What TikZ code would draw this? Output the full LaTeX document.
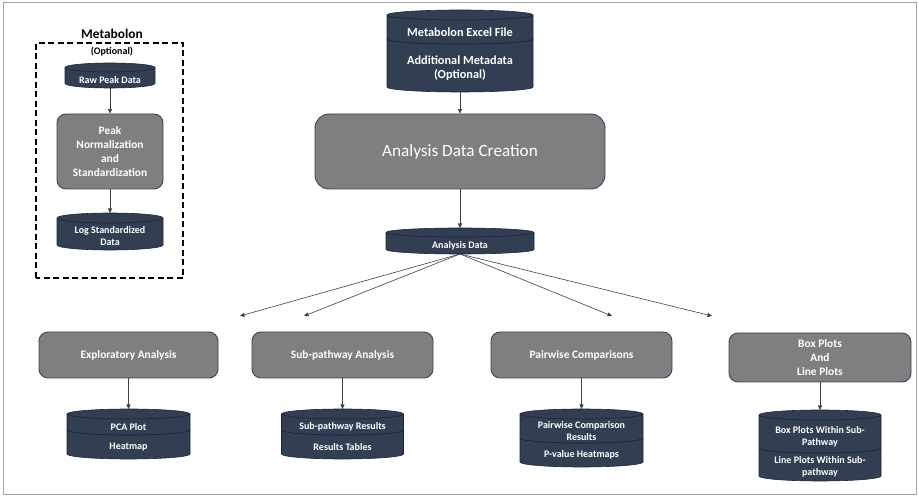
\documentclass[tikz,border=0pt]{standalone}
\usepackage{fontspec}
\setmainfont{Carlito}
\usetikzlibrary{arrows.meta}

\definecolor{dbblue}{RGB}{50,62,82}
\definecolor{dbedge}{RGB}{28,38,54}
\definecolor{boxgray}{RGB}{127,127,127}
\definecolor{boxedge}{RGB}{52,70,98}
\definecolor{framegray}{RGB}{165,165,165}

\newcommand{\dbsmall}{\bfseries\fontsize{10}{12}\selectfont}
\newcommand{\dblarge}{\bfseries\fontsize{12.3}{13.5}\selectfont}

\tikzset{
  box/.style={rectangle, rounded corners=9pt, fill=boxgray, draw=boxedge, line width=0.9pt,
    text=white, align=center, font=\bfseries\fontsize{11.4}{13.7}\selectfont},
  dbbody/.style={fill=dbblue, draw=dbedge, line width=0.6pt},
  dbarea/.style={rectangle, inner sep=0pt, outer sep=0pt},
  dbtext/.style={text=white, align=center, inner sep=0pt},
  arr/.style={-{Triangle[length=4.5pt,width=4pt]}, draw=black!75, line width=0.6pt},
}

% database drum: name, x, top centre, bottom centre, half width, y radius
\newcommand{\dbcyl}[7][\dbsmall]{%
  \filldraw[dbbody] (#3-#6,#4) -- (#3-#6,#5) arc[start angle=180, end angle=360, x radius=#6pt, y radius=#7pt]
    -- (#3+#6,#4) arc[start angle=0, end angle=180, x radius=#6pt, y radius=#7pt] -- cycle;
  \draw[dbedge, line width=0.6pt] (#3-#6,#4) arc[start angle=180, end angle=360, x radius=#6pt, y radius=#7pt];
  \node[dbarea, minimum width=2*#6, minimum height=#4-#5+2*#7,
    label={[dbtext, font=#1, yshift=-#7pt]center:\dblabeltext}] (#2) at (#3,{(#4+#5)/2}) {};
}

\begin{document}
\begin{tikzpicture}[x=1pt, y=1pt]
  \useasboundingbox (0,0) rectangle (919,498);
  % outer frame
  \draw[framegray, line width=1pt] (3,3) rectangle (916,495);

  % Metabolon block
  \node[font=\bfseries\fontsize{13.4}{15}\selectfont] (mtitle) at (112,464) {Metabolon};
  \draw[line width=1.2pt, dash pattern=on 6pt off 3.5pt] (36,220) rectangle (183,455);
  \node[font=\bfseries\fontsize{10}{12}\selectfont] (mopt) at (112,446) {(Optional)};
  \def\dblabeltext{Raw Peak Data}
  \dbcyl{raw}{110}{430.5}{414.5}{45}{4.5}
  \node[box, minimum width=106, minimum height=75] (peak) at (110,346.5) {Peak\\Normalization\\and\\Standardization};
  \def\dblabeltext{Log Standardized\\Data}
  \dbcyl{logstd}{110}{280}{253}{53}{5}

  % input files
  \def\dblabeltext{Additional Metadata\\(Optional)}
  \dbcyl[\dblarge]{meta}{460}{459}{411}{73}{5}
  \def\dblabeltext{Metabolon Excel File}
  \dbcyl[\dblarge]{excel}{460}{483}{459}{73}{5}

  % creation step
  \node[box, rounded corners=14pt, minimum width=290, minimum height=75,
    font=\fontsize{17.2}{20}\selectfont] (adc) at (460,346.5) {Analysis Data Creation};
  \def\dblabeltext{Analysis Data}
  \dbcyl{adata}{460}{265.5}{248.5}{74}{4.5}

  % analysis modules
  \node[box, minimum width=179, minimum height=46] (explor) at (128.5,143) {Exploratory Analysis};
  \node[box, minimum width=181, minimum height=46] (subpath) at (342.5,143) {Sub-pathway Analysis};
  \node[box, minimum width=181, minimum height=46] (pairwise) at (581.5,143) {Pairwise Comparisons};
  \node[box, minimum width=182, minimum height=49] (boxline) at (820,140.5) {Box Plots\\And\\Line Plots};

  % outputs
  \def\dblabeltext{Heatmap}
  \dbcyl{heatmap}{128.5}{68}{44}{61.5}{5}
  \def\dblabeltext{PCA Plot}
  \dbcyl{pca}{128.5}{84}{68}{61.5}{5}
  \def\dblabeltext{Results Tables}
  \dbcyl{restab}{342.5}{68}{44}{61}{5}
  \def\dblabeltext{Sub-pathway Results}
  \dbcyl{subres}{342.5}{84}{68}{61}{5}
  \def\dblabeltext{P-value Heatmaps}
  \dbcyl{pvalue}{581.5}{60}{36}{61.5}{5}
  \def\dblabeltext{Pairwise Comparison\\Results}
  \dbcyl{pwres}{581.5}{84}{60}{61.5}{5}
  \def\dblabeltext{Line Plots Within Sub-\\pathway}
  \dbcyl{lineplot}{820}{50}{22}{61}{5}
  \def\dblabeltext{Box Plots Within Sub-\\Pathway}
  \dbcyl{boxplot}{820}{83}{50}{61}{5}

  % arrows
  \draw[arr] (raw) -- (peak);
  \draw[arr] (peak) -- (logstd);
  \draw[arr] (meta) -- (adc);
  \draw[arr] (adc) -- (adata);
  \coordinate (fan1) at (240,182);
  \coordinate (fan2) at (304,182);
  \coordinate (fan3) at (612,182);
  \coordinate (fan4) at (712,182);
  \foreach \f in {fan1,fan2,fan3,fan4}
    \draw[arr] (adata.south) -- (\f);
  \draw[arr] (explor) -- (pca);
  \draw[arr] (subpath) -- (subres);
  \draw[arr] (pairwise) -- (pwres);
  \draw[arr] (boxline) -- (boxplot);
\end{tikzpicture}
\end{document}
